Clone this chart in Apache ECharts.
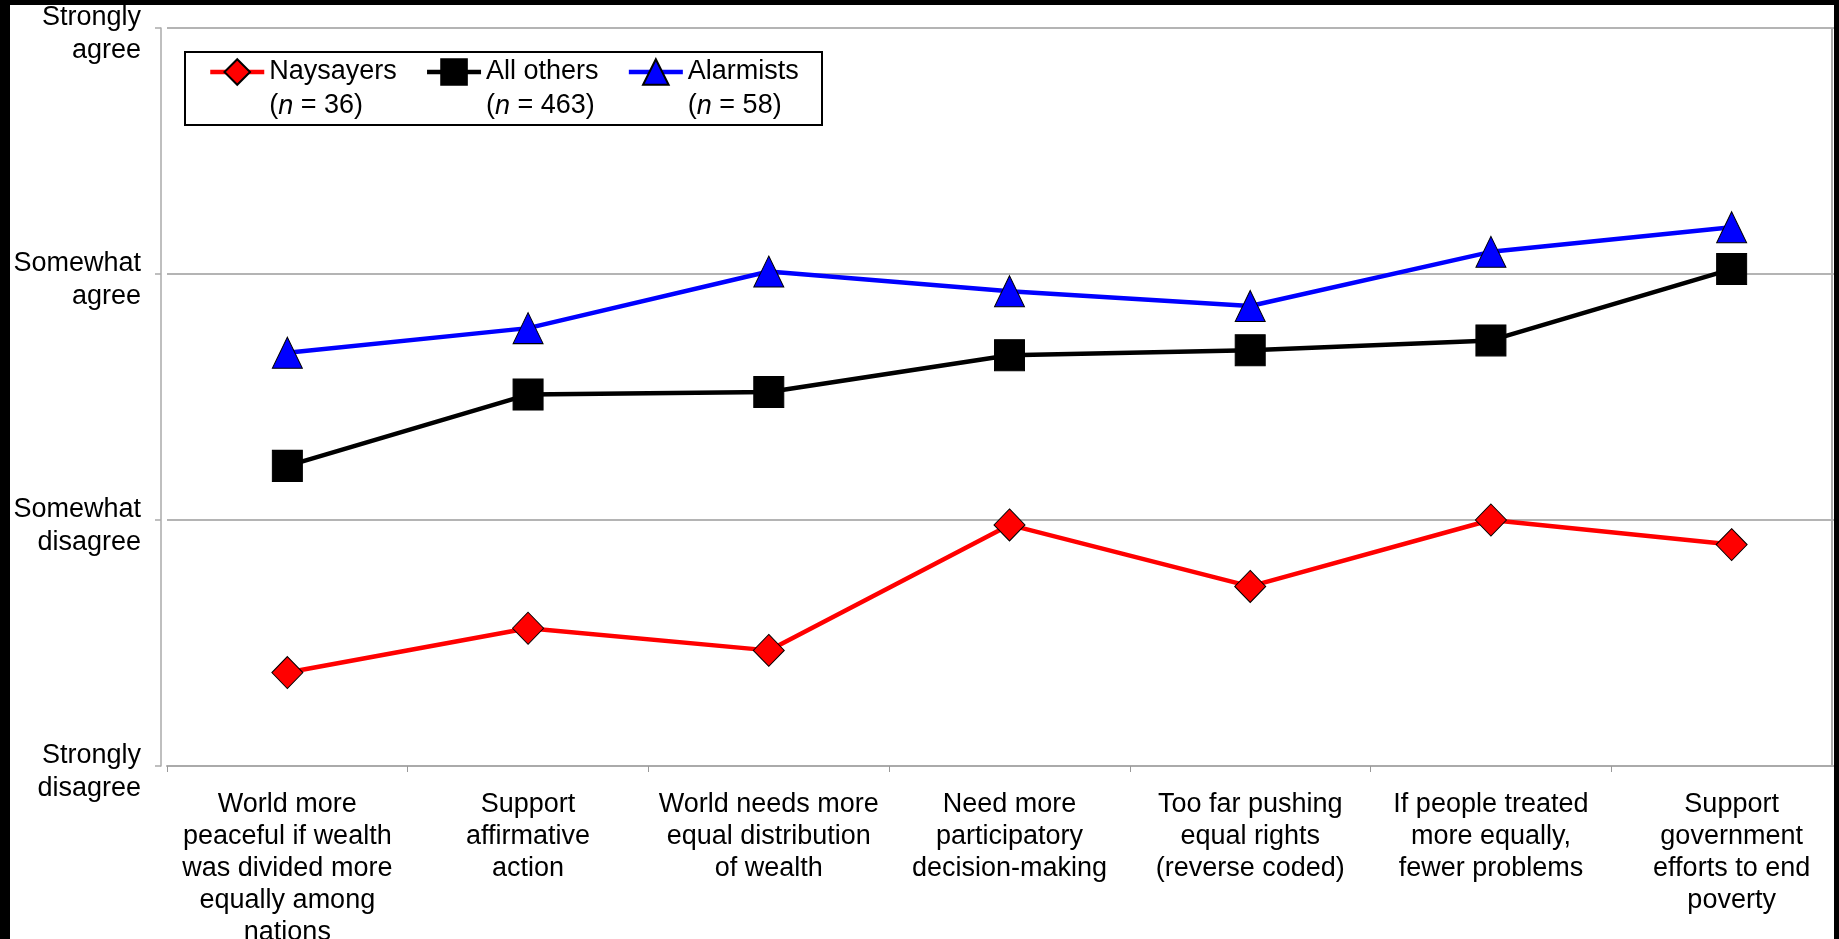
<!DOCTYPE html>
<html>
<head>
<meta charset="utf-8">
<script src="https://cdn.jsdelivr.net/npm/echarts@6/dist/echarts.min.js"></script>
<style>
  html, body { margin: 0; padding: 0; background: #000; width: 1839px; height: 939px; overflow: hidden; }
  #chart { position: absolute; left: 10px; top: 5px; width: 1824px; height: 934px; background: #fff; }
</style>
</head>
<body>
<div id="chart"></div>
<script>
const categories = [
  'World more\npeaceful if wealth\nwas divided more\nequally among\nnations',
  'Support\naffirmative\naction',
  'World needs more\nequal distribution\nof wealth',
  'Need more\nparticipatory\ndecision-making',
  'Too far pushing\nequal rights\n(reverse coded)',
  'If people treated\nmore equally,\nfewer problems',
  'Support\ngovernment\nefforts to end\npoverty'
];
const yTickLabels = ['Strongly\ndisagree', 'Somewhat\ndisagree', 'Somewhat\nagree', 'Strongly\nagree'];
const seriesNames = ['Naysayers', 'All others', 'Alarmists'];
const groupSizes = ['36', '463', '58'];
const naysayers = [1.38, 1.56, 1.47, 1.98, 1.73, 2.00, 1.90];
const allOthers = [2.22, 2.51, 2.52, 2.67, 2.69, 2.73, 3.02];
const alarmists = [2.68, 2.78, 3.01, 2.93, 2.87, 3.09, 3.19];

const FONT = "'Liberation Sans', Arial, sans-serif";
const chart = echarts.init(document.getElementById('chart'), null, { renderer: 'canvas' });

const option = {
  animation: false,
  backgroundColor: '#fff',
  grid: { left: 157, top: 23, width: 1685, height: 738, containLabel: false, outerBoundsMode: 'none' },
  legend: {
    left: 198,
    top: 16,
    padding: 0,
    orient: 'horizontal',
    itemWidth: 54,
    itemHeight: 32,
    itemGap: 28,
    data: seriesNames,
    lineStyle: { width: 4.5 },
    formatter: function (name) {
      const i = seriesNames.indexOf(name);
      return name + '\n(' + '{i|n}' + ' = ' + groupSizes[i] + ')';
    },
    textStyle: {
      fontFamily: FONT, fontSize: 27, color: '#000', lineHeight: 34,
      padding: [34, 0, 0, 0],
      rich: { i: { fontFamily: FONT, fontSize: 27, fontStyle: 'italic', color: '#000', lineHeight: 34 } }
    }
  },
  xAxis: {
    type: 'category',
    data: categories,
    boundaryGap: true,
    axisLine: { show: true, lineStyle: { color: '#aaaaaa', width: 2 } },
    axisTick: { show: true, length: 6, lineStyle: { color: '#999999', width: 1 } },
    axisLabel: { interval: 0, margin: 23, fontFamily: FONT, fontSize: 27, lineHeight: 32, color: '#000', align: 'center' },
    splitLine: { show: false }
  },
  yAxis: {
    type: 'value',
    min: 1, max: 4, interval: 1,
    offset: 6,
    axisLine: { show: true, lineStyle: { color: '#aaaaaa', width: 1.5 } },
    axisTick: { show: true, length: 6, lineStyle: { color: '#aaaaaa', width: 1.5 } },
    axisLabel: {
      margin: 20, fontFamily: FONT, fontSize: 27, lineHeight: 33, color: '#000', align: 'right',
      formatter: function (v) {
        const lab = yTickLabels[Math.round(v) - 1];
        if (!lab) return '';
        const parts = lab.split('\n');
        return '{s| }\n' + parts.map(function (p) { return '{t|' + p + '}'; }).join('\n');
      },
      rich: {
        s: { fontSize: 1, lineHeight: 12, fontFamily: FONT },
        t: { fontFamily: FONT, fontSize: 27, lineHeight: 33, color: '#000' }
      }
    },
    splitLine: { show: true, lineStyle: { color: '#b4b4b4', width: 2 } }
  },
  graphic: [
    { type: 'rect', shape: { x: 175, y: 47, width: 637, height: 73 }, style: { fill: 'none', stroke: '#000', lineWidth: 2 }, z: 1 },
    { type: 'line', shape: { x1: 1822, y1: 23, x2: 1822, y2: 761 }, style: { stroke: '#aaaaaa', lineWidth: 2 }, z: 1 }
  ],
  series: [
    {
      name: seriesNames[0], type: 'line', data: naysayers,
      symbol: 'diamond', symbolSize: [31, 32],
      lineStyle: { color: '#ff0000', width: 4.5 },
      itemStyle: { color: '#ff0000', borderColor: '#000', borderWidth: 1 },
      z: 3
    },
    {
      name: seriesNames[1], type: 'line', data: allOthers,
      symbol: 'rect', symbolSize: [30, 31],
      lineStyle: { color: '#000000', width: 4.5 },
      itemStyle: { color: '#000000', borderColor: '#000', borderWidth: 1 },
      z: 3
    },
    {
      name: seriesNames[2], type: 'line', data: alarmists,
      symbol: 'triangle', symbolSize: [30, 31],
      lineStyle: { color: '#0000ff', width: 4.5 },
      itemStyle: { color: '#0000ff', borderColor: '#000', borderWidth: 1 },
      z: 3
    }
  ]
};
chart.setOption(option);
</script>
</body>
</html>
